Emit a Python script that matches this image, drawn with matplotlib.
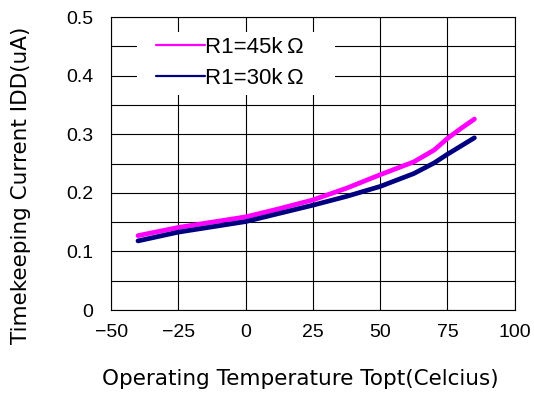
import matplotlib.pyplot as plt
from matplotlib.patches import Rectangle
from matplotlib.ticker import MultipleLocator

plt.rcParams['font.family'] = ['Liberation Sans', 'DejaVu Sans']

# temperature points (Celcius)
temp = [-40, -25, 0, 12.5, 25, 37.5, 50, 62.5, 70, 75, 80, 85]
# timekeeping current (uA)
idd_45k = [0.127, 0.141, 0.159, 0.173, 0.188, 0.208, 0.231, 0.253, 0.273, 0.293, 0.310, 0.326]
idd_30k = [0.118, 0.133, 0.151, 0.165, 0.179, 0.194, 0.211, 0.233, 0.251, 0.266, 0.280, 0.294]

labels = ['R1=45k\u2009\u03a9', 'R1=30k\u2009\u03a9']
colors = ['#ff00ff', '#000080']
yticks = [0, 0.1, 0.2, 0.3, 0.4, 0.5]
ytick_labels = ['0', '0.1', '0.2', '0.3', '0.4', '0.5']

fig = plt.figure(figsize=(5.34, 3.99), dpi=100)
ax = fig.add_axes([0.208, 0.223, 0.756, 0.734])

ax.plot(temp, idd_45k, color=colors[0], lw=3.4, label=labels[0], solid_capstyle='round', zorder=3)
ax.plot(temp, idd_30k, color=colors[1], lw=3.4, label=labels[1], solid_capstyle='round', zorder=3)

ax.set_xlim(-50, 100)
ax.set_ylim(0, 0.5)
ax.xaxis.set_major_locator(MultipleLocator(25))
ax.set_yticks(yticks)
ax.set_yticklabels(ytick_labels)
ax.yaxis.set_minor_locator(MultipleLocator(0.05))
ax.grid(True, which='both', color='black', lw=0.8)
ax.set_axisbelow(True)
ax.tick_params(which='both', length=0, labelsize=14)
ax.tick_params(axis='x', pad=10)
ax.tick_params(axis='y', pad=13)
for s in ax.spines.values():
    s.set_color('black')
    s.set_linewidth(0.8)

ax.set_xlabel('Operating Temperature Topt(Celcius)', fontsize=15.5, family='DejaVu Sans')
ax.set_ylabel('Timekeeping Current IDD(uA)', fontsize=15.5, family='DejaVu Sans')
ax.xaxis.set_label_coords(0.468, -0.203)
ax.yaxis.set_label_coords(-0.198, 0.427)

# white patch behind the legend, covering the grid
ax.add_patch(Rectangle((0.064, 0.734), 0.49, 0.215, transform=ax.transAxes,
                       facecolor='white', edgecolor='none', zorder=1))

leg = ax.legend(loc='center left', bbox_to_anchor=(0.111, 0.843), fontsize=16,
                handlelength=2.2, handletextpad=0.0, labelspacing=0.45,
                frameon=False, borderpad=0, borderaxespad=0)
for line in leg.get_lines():
    line.set_linewidth(1.6)

fig.savefig('out.png', dpi=100)
